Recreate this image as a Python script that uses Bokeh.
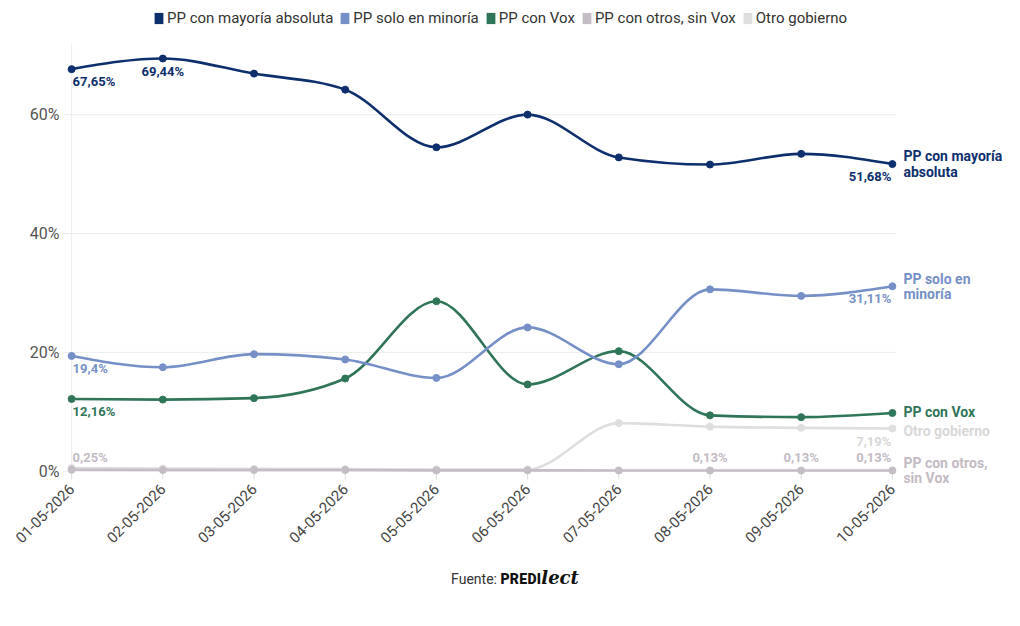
import numpy as np
from bokeh.plotting import figure
from bokeh.models import (Range1d, FixedTicker, Label, Legend, LegendItem,
                          ColumnDataSource, Div)
from bokeh.layouts import column
from bokeh.embed import file_html
from bokeh.resources import INLINE

# ---------------- data ----------------
dates = ["01-05-2026", "02-05-2026", "03-05-2026", "04-05-2026", "05-05-2026",
         "06-05-2026", "07-05-2026", "08-05-2026", "09-05-2026", "10-05-2026"]
mayoria = [67.65, 69.44, 66.9, 64.2, 54.5, 60.0, 52.8, 51.6, 53.4, 51.68]
minoria = [19.4, 17.5, 19.7, 18.8, 15.7, 24.2, 18.0, 30.6, 29.5, 31.11]
con_vox = [12.16, 12.05, 12.3, 15.6, 28.6, 14.6, 20.2, 9.4, 9.1, 9.8]
otros_sin_vox = [0.25, 0.2, 0.2, 0.2, 0.15, 0.15, 0.13, 0.13, 0.13, 0.13]
otro_gobierno = [0.54, 0.45, 0.4, 0.35, 0.3, 0.3, 8.1, 7.5, 7.3, 7.19]
series_names = ["PP con mayoría absoluta", "PP solo en minoría", "PP con Vox",
                "PP con otros, sin Vox", "Otro gobierno"]
end_labels = ["PP con mayoría\nabsoluta", "PP solo en\nminoría", "PP con Vox",
              "PP con otros,\nsin Vox", "Otro gobierno"]
y_ticks = [0, 20, 40, 60]

colors = ["#0d2f6e", "#7590c6", "#2f7658", "#c5bdc5", "#dedede"]
label_colors = ["#0d2f6e", "#7590c6", "#2f7658", "#c3bbc3", "#d8d8d8"]
all_series = [mayoria, minoria, con_vox, otros_sin_vox, otro_gobierno]

FONT = "Roboto"
xs = list(range(len(dates)))
X_LO, X_DATA_HI, X_HI = -0.1, 9.04, 10.35
Y_LO, Y_PLOT_HI, Y_HI = -2.4, 72.0, 79.2


def d3_sign(v):
    return -1.0 if v < 0 else 1.0


def monotone_beziers(x, y):
    n = len(x)
    m = [0.0] * n
    for i in range(1, n - 1):
        h0 = x[i] - x[i - 1]
        h1 = x[i + 1] - x[i]
        s0 = (y[i] - y[i - 1]) / h0
        s1 = (y[i + 1] - y[i]) / h1
        p = (s0 * h1 + s1 * h0) / (h0 + h1)
        m[i] = (d3_sign(s0) + d3_sign(s1)) * min(abs(s0), abs(s1), 0.5 * abs(p))
    h = x[1] - x[0]
    m[0] = (3 * (y[1] - y[0]) / h - m[1]) / 2
    h = x[-1] - x[-2]
    m[-1] = (3 * (y[-1] - y[-2]) / h - m[-2]) / 2
    d = dict(x0=[], y0=[], x1=[], y1=[], cx0=[], cy0=[], cx1=[], cy1=[])
    for i in range(n - 1):
        h = x[i + 1] - x[i]
        d["x0"].append(x[i]); d["y0"].append(y[i])
        d["x1"].append(x[i + 1]); d["y1"].append(y[i + 1])
        d["cx0"].append(x[i] + h / 3); d["cy0"].append(y[i] + m[i] * h / 3)
        d["cx1"].append(x[i + 1] - h / 3); d["cy1"].append(y[i + 1] - m[i + 1] * h / 3)
    return d


def fmt(v):
    s = f"{v:.2f}".rstrip("0").rstrip(".")
    return s.replace(".", ",") + "%"


p = figure(width=1020, height=560, output_backend="svg", toolbar_location=None,
           x_range=Range1d(X_LO, X_HI), y_range=Range1d(Y_LO, Y_HI),
           min_border_left=62, min_border_right=5, min_border_top=0,
           min_border_bottom=75, background_fill_color="white",
           border_fill_color="white", outline_line_color=None)

# grid / axes
p.xgrid.grid_line_color = None
p.ygrid.grid_line_color = None
p.segment(x0=X_LO, x1=X_DATA_HI, y0=y_ticks, y1=y_ticks,
          line_color="#ececec", line_width=1)
p.segment(x0=0, x1=0, y0=0, y1=Y_PLOT_HI, line_color="#ececec", line_width=1)
# x tick marks below the baseline
p.segment(x0=xs, x1=xs, y0=0, y1=-1.4, line_color="#dddddd", line_width=1)

p.yaxis.ticker = FixedTicker(ticks=y_ticks)
p.yaxis.major_label_overrides = {t: f"{t}%" for t in y_ticks}
p.yaxis.axis_line_color = None
p.yaxis.major_tick_line_color = None
p.yaxis.major_tick_out = 0
p.yaxis.major_tick_in = 0
p.yaxis.minor_tick_line_color = None
p.yaxis.minor_tick_out = 0
p.yaxis.major_label_text_font = FONT
p.yaxis.major_label_text_font_size = "16px"
p.yaxis.major_label_text_color = "#555555"
p.yaxis.major_label_standoff = 3

p.xaxis.ticker = FixedTicker(ticks=xs)
p.xaxis.major_label_overrides = {i: d for i, d in enumerate(dates)}
p.xaxis.major_label_orientation = np.pi / 4
p.xaxis.axis_line_color = None
p.xaxis.major_tick_line_color = None
p.xaxis.major_tick_out = 0
p.xaxis.major_tick_in = 0
p.xaxis.minor_tick_line_color = None
p.xaxis.minor_tick_out = 0
p.xaxis.major_label_text_font = FONT
p.xaxis.major_label_text_font_size = "15px"
p.xaxis.major_label_text_color = "#444444"
p.xaxis.major_label_standoff = 1

# lines, drawn lightest first
for k in [4, 3, 2, 1, 0]:
    ys = all_series[k]
    bz = monotone_beziers(xs, ys)
    p.bezier(source=ColumnDataSource(bz), x0="x0", y0="y0", x1="x1", y1="y1",
             cx0="cx0", cy0="cy0", cx1="cx1", cy1="cy1",
             line_color=colors[k], line_width=2.6)
    p.scatter(xs, ys, size=7, color=colors[k])

# legend with zero-height bar renderers (only their legend swatches show)
items = []
for k in range(5):
    r = p.vbar(x=xs[:1], top=[0], bottom=[0], width=0.1, fill_color=colors[k],
               line_alpha=0, border_radius=2)
    items.append(LegendItem(label=series_names[k], renderers=[r]))
legend = Legend(items=items, orientation="horizontal", location=(91, 458),
                glyph_width=11, glyph_height=14, label_standoff=3, spacing=6,
                label_text_font=FONT, label_text_font_size="15px",
                label_text_color="#333333", background_fill_alpha=0,
                border_line_color=None, padding=0, margin=0,
                label_height=14)
p.add_layout(legend, "center")

# value labels: (series, index, align, above?)
value_labels = [
    (0, 0, "left", False), (0, 1, "center", False), (0, 9, "right", False),
    (1, 0, "left", False), (1, 9, "right", False),
    (2, 0, "left", False),
    (3, 0, "left", True), (3, 7, "center", True), (3, 8, "center", True), (3, 9, "right", True),
    (4, 9, "right", False),
]
for k, i, align, above in value_labels:
    xoff = {"left": 1, "center": 0, "right": -1}[align]
    p.add_layout(Label(x=xs[i], y=all_series[k][i], text=fmt(all_series[k][i]),
                       x_offset=xoff, y_offset=(5 if above else -5),
                       text_align=align,
                       text_baseline=("bottom" if above else "top"),
                       text_font=FONT, text_font_size="13px",
                       text_font_style="bold", text_color=label_colors[k]))

# end labels
end_offsets = [0, 0, 1, 0, -2]
for k in range(5):
    p.add_layout(Label(x=xs[-1], y=all_series[k][-1], text=end_labels[k],
                       x_offset=11, y_offset=end_offsets[k],
                       text_align="left", text_baseline="middle",
                       text_line_height=0.95,
                       text_font=FONT, text_font_size="14px",
                       text_font_style="bold", text_color=label_colors[k]))

source_div = Div(
    text=('<div style="width:1020px;text-align:center;font-family:Roboto;'
          'font-size:14px;color:#333;padding-top:0px">Fuente: '
          '<span style="font-weight:900;color:#111;letter-spacing:0.3px">PREDI</span>'
          '<span style="font-style:italic;font-weight:bold;font-size:18px;color:#111;'
          'font-family:\'DejaVu Serif\'">lect</span></div>'),
    width=1020, height=60)

layout = column(p, source_div, spacing=0)
open("out.html", "w").write(file_html(layout, INLINE))
